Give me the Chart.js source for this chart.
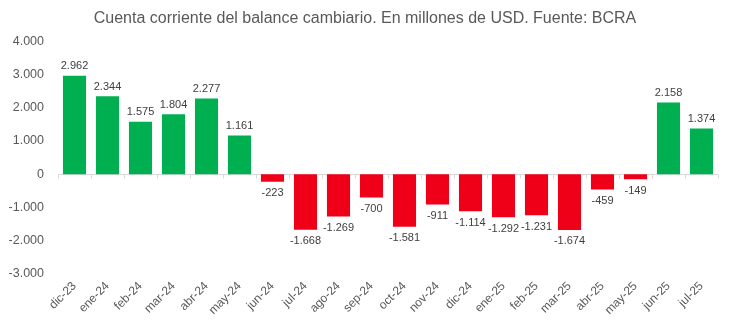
<!DOCTYPE html>
<html>
<head>
<meta charset="utf-8">
<script src="https://cdn.jsdelivr.net/npm/chart.js@4/dist/chart.umd.min.js"></script>
<style>
  html, body { margin: 0; padding: 0; background: #fff; }
  #wrap { width: 730px; height: 322px; }
</style>
</head>
<body>
<div id="wrap"><canvas id="ccChart" width="730" height="322"></canvas></div>
<script>
// Cuenta corriente mensual (millones de USD)
const months = ['dic-23', 'ene-24', 'feb-24', 'mar-24', 'abr-24', 'may-24', 'jun-24', 'jul-24',
    'ago-24', 'sep-24', 'oct-24', 'nov-24', 'dic-24', 'ene-25', 'feb-25', 'mar-25',
    'abr-25', 'may-25', 'jun-25', 'jul-25'];
const currentAccount = [2962, 2344, 1575, 1804, 2277, 1161, -223, -1668,
    -1269, -700, -1581, -911, -1114, -1292, -1231, -1674,
    -459, -149, 2158, 1374];
const yTicks = [-3000, -2000, -1000, 0, 1000, 2000, 3000, 4000];

const GREEN = '#00B050';
const RED = '#F00018';
const FONT = "'Liberation Sans', Arial, sans-serif";

// 1234 -> "1.234", -1668 -> "-1.668"
function fmt(v) {
    const s = String(Math.abs(Math.round(v))).replace(/\B(?=(\d{3})+(?!\d))/g, '.');
    return (v < 0 ? '-' : '') + s;
}

// zero line with small tick marks between categories
const zeroAxis = {
    id: 'zeroAxis',
    beforeDatasetsDraw(chart) {
        const { ctx, chartArea, scales } = chart;
        const y0 = Math.round(scales.y.getPixelForValue(0)) + 0.5;
        const x = scales.x;
        const step = x.getPixelForValue(1) - x.getPixelForValue(0);
        ctx.save();
        ctx.strokeStyle = '#d9d9d9';
        ctx.lineWidth = 1;
        ctx.beginPath();
        ctx.moveTo(chartArea.left, y0);
        ctx.lineTo(chartArea.right, y0);
        for (let i = 0; i <= months.length; i++) {
            const px = Math.round(x.getPixelForValue(i) - step / 2) + 0.5;
            ctx.moveTo(px, y0);
            ctx.lineTo(px, y0 + 4);
        }
        ctx.stroke();
        ctx.restore();
    }
};

// value labels above / below each bar
const barLabels = {
    id: 'barLabels',
    afterDatasetsDraw(chart) {
        const { ctx } = chart;
        const meta = chart.getDatasetMeta(0);
        ctx.save();
        ctx.font = '11px ' + FONT;
        ctx.fillStyle = '#404040';
        ctx.textAlign = 'center';
        meta.data.forEach(function(bar, i) {
            const v = currentAccount[i];
            if (v >= 0) {
                ctx.textBaseline = 'bottom';
                ctx.fillText(fmt(v), bar.x, bar.y - 4);
            } else {
                ctx.textBaseline = 'top';
                ctx.fillText(fmt(v), bar.x, bar.y + 6);
            }
        });
        ctx.restore();
    }
};

new Chart(document.getElementById('ccChart'), {
    type: 'bar',
    data: {
        labels: months,
        datasets: [{
            data: currentAccount,
            backgroundColor: ctx => (ctx.raw >= 0 ? GREEN : RED),
            categoryPercentage: 1,
            barPercentage: 0.7
        }]
    },
    options: {
        responsive: false,
        animation: false,
        layout: { padding: 0 },
        scales: {
            x: {
                grid: { display: false, drawTicks: false },
                border: { display: false },
                ticks: {
                    color: '#595959',
                    font: { family: FONT, size: 12 },
                    minRotation: 45,
                    maxRotation: 45,
                    autoSkip: false,
                    padding: 5
                },
                afterFit(scale) { scale.height = 48; }
            },
            y: {
                min: -3000,
                max: 4000,
                grid: { display: false, drawTicks: false },
                border: { display: false },
                afterBuildTicks(scale) {
                    scale.ticks = yTicks.map(v => ({ value: v }));
                },
                ticks: {
                    color: '#595959',
                    font: { family: FONT, size: 12.5 },
                    padding: 14,
                    callback: v => fmt(v)
                },
                afterFit(scale) { scale.width = 58; }
            },
            // empty right margin so the plot ends short of the edge
            yRight: {
                type: 'linear',
                position: 'right',
                min: -3000,
                max: 4000,
                grid: { display: false, drawTicks: false },
                border: { display: false },
                ticks: { display: false },
                afterFit(scale) { scale.width = 12; }
            }
        },
        plugins: {
            legend: { display: false },
            tooltip: { enabled: false },
            title: {
                display: true,
                text: 'Cuenta corriente del balance cambiario. En millones de USD. Fuente: BCRA',
                color: '#595959',
                font: { family: FONT, size: 16, weight: 'normal' },
                padding: { top: 9, bottom: 13 }
            }
        }
    },
    plugins: [zeroAxis, barLabels]
});
</script>
</body>
</html>
